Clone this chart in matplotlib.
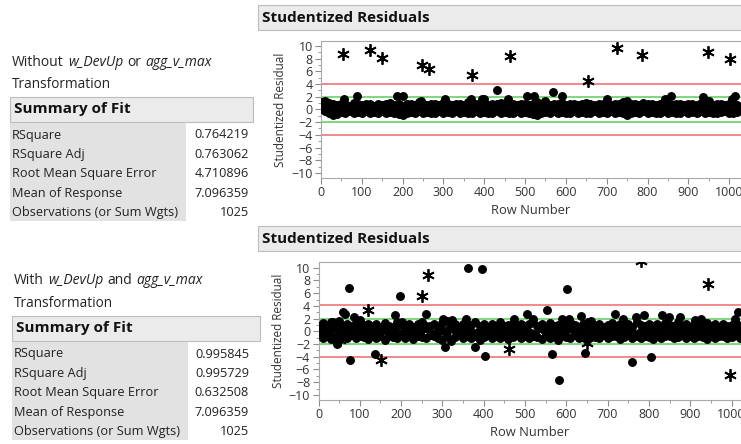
import matplotlib
matplotlib.use("Agg")
import matplotlib.pyplot as plt
from matplotlib import font_manager
from matplotlib.patches import Rectangle
from matplotlib.ticker import MultipleLocator


def pick_family(names):
    # first family that has both a bold and an italic face
    for name in names:
        faces = [f for f in font_manager.fontManager.ttflist if f.name == name]
        weights = []
        for f in faces:
            w = f.weight
            if isinstance(w, str):
                w = font_manager.weight_dict.get(w, 400)
            weights.append(w)
        if any(w >= 600 for w in weights) and any(f.style == 'italic' for f in faces):
            return name
    return 'DejaVu Sans'


FAMILY = pick_family(['Open Sans', 'Noto Sans', 'Lato', 'Roboto', 'Liberation Sans'])
plt.rcParams['font.family'] = [FAMILY, 'DejaVu Sans']

W, H = 741, 444

# Summary of Fit tables
fit_labels = ["RSquare", "RSquare Adj", "Root Mean Square Error",
              "Mean of Response", "Observations (or Sum Wgts)"]
fit_without = ["0.764219", "0.763062", "4.710896", "7.096359", "1025"]
fit_with = ["0.995845", "0.995729", "0.632508", "7.096359", "1025"]

# residual band rows
band_rows = list(range(0, 1021, 10))
mid_rows = list(range(5, 1026, 20))
mid2_rows = list(range(15, 1016, 20))

top_hi = [1.2, 1.3, 1.0, 0.8, 0.7, 0.9, 0.8, 0.6, 1.0, 0.8,
          0.7, 0.9, 0.8, 0.6, 0.9, 0.7, 0.8, 1.0, 0.7, 0.8,
          0.6, 0.8, 0.9, 0.7, 1.2, 0.8, 0.7, 0.9, 0.8, 0.7,
          1.0, 0.8, 0.7, 0.9, 0.8, 0.7, 1.1, 0.8, 0.9, 0.7,
          0.8, 0.7, 0.9, 0.8, 1.0, 0.7, 0.8, 0.9, 0.7, 0.8,
          0.9, 0.7, 0.8, 1.1, 0.8, 1.2, 0.7, 0.9, 0.8, 1.0,
          0.7, 0.8, 0.9, 0.7, 0.8, 1.0, 0.8, 0.7, 0.9, 0.8,
          0.8, 0.7, 0.9, 0.8, 1.1, 0.7, 0.8, 0.9, 0.7, 1.0,
          0.8, 0.9, 0.7, 0.8, 1.2, 0.8, 0.7, 0.9, 0.8, 0.7,
          0.9, 0.8, 0.7, 1.0, 0.8, 0.9, 0.7, 0.8, 0.9, 0.7,
          0.8, 1.0, 0.7]
top_lo = [0.1, -0.2, -0.5, -0.8, -0.7, -0.4, -0.5, -0.3, -0.6, -0.4,
          -0.5, -0.3, -0.6, -0.4, -0.5, -0.3, -0.6, -0.4, -0.5, -0.7,
          -0.9, -0.5, -0.4, -0.6, -0.3, -0.5, -0.4, -0.6, -0.5, -0.3,
          -0.5, -0.4, -0.6, -0.3, -0.5, -0.4, -0.6, -0.5, -0.3, -0.6,
          -0.4, -0.5, -0.6, -0.3, -0.5, -0.4, -0.6, -0.5, -0.3, -0.6,
          -0.4, -0.5, -0.7, -0.9, -0.5, -0.4, -0.6, -0.3, -0.5, -0.4,
          -0.6, -0.5, -0.3, -0.6, -0.4, -0.5, -0.6, -0.3, -0.5, -0.4,
          -0.5, -0.3, -0.6, -0.4, -0.5, -0.8, -0.6, -0.4, -0.5, -0.3,
          -0.6, -0.4, -0.5, -0.6, -0.3, -0.5, -0.4, -0.6, -0.5, -0.3,
          -0.5, -0.4, -0.6, -0.3, -0.5, -0.4, -0.6, -0.5, -0.4, -0.3,
          -0.5, -0.6, -0.4]
top_mid = [0.2, 0.3, 0.0, 0.1, 0.4, -0.1, 0.2, 0.1, 0.3, 0.0,
           0.1, 0.4, 0.2, -0.1, 0.1, 0.3, 0.0, 0.2, 0.1, 0.4,
           0.0, 0.2, 0.1, 0.3, -0.1, 0.2, 0.1, 0.4, 0.0, 0.2,
           0.3, 0.1, 0.0, 0.2, 0.4, 0.1, -0.1, 0.2, 0.3, 0.0,
           0.1, 0.2, 0.4, 0.0, 0.1, 0.3, 0.2, -0.1, 0.1, 0.3,
           0.2, 0.0]
top_mid2 = [0.5, -0.1, 0.1, 0.3, -0.2, 0.2, 0.4, 0.0, 0.1, 0.3,
            -0.1, 0.2, 0.5, 0.0, 0.3, 0.1, -0.2, 0.4, 0.2, 0.0,
            0.3, 0.1, -0.1, 0.4, 0.2, 0.0, 0.3, -0.2, 0.1, 0.4,
            0.2, 0.0, 0.3, -0.1, 0.1, 0.4, 0.2, 0.0, -0.2, 0.3,
            0.1, 0.4, -0.1, 0.2, 0.3, 0.0, 0.1, 0.4, -0.1, 0.2,
            0.3]

bot_hi = [0.9, 1.3, 0.7, 1.4, 1.1, 1.6, 0.8, 1.2, 0.9, 1.3,
          0.7, 1.0, 1.2, 0.8, 1.1, 0.6, 1.3, 0.9, 0.7, 1.5,
          1.0, 0.8, 1.2, 0.7, 1.1, 1.4, 0.9, 0.8, 1.2, 0.6,
          1.3, 1.6, 0.9, 1.1, 0.7, 1.2, 0.8, 1.0, 1.4, 0.9,
          1.2, 0.7, 1.1, 0.9, 1.4, 0.8, 1.0, 1.3, 0.7, 1.1,
          0.9, 1.2, 1.5, 0.8, 1.1, 0.7, 1.3, 0.9, 1.0, 1.2,
          0.8, 1.4, 1.0, 0.7, 1.2, 0.9, 1.6, 0.8, 1.1, 0.7,
          1.0, 1.3, 0.8, 1.1, 0.9, 1.2, 0.7, 1.5, 1.0, 0.8,
          1.2, 0.9, 1.1, 0.7, 1.3, 1.0, 0.8, 1.4, 0.9, 1.1,
          0.7, 1.2, 0.9, 1.0, 1.3, 0.8, 1.1, 0.7, 1.2, 0.9,
          1.0, 1.3, 0.8]
bot_lo = [-0.5, -1.0, -0.7, -1.2, -0.9, -1.4, -0.8, -1.1, -0.6, -1.0,
          -0.7, -0.9, -1.2, -0.6, -1.0, -0.8, -1.3, -0.7, -0.9, -1.1,
          -0.6, -1.0, -0.8, -1.2, -0.7, -0.9, -1.1, -0.6, -0.8, -1.0,
          -1.3, -0.7, -1.5, -0.9, -0.6, -1.1, -0.8, -1.0, -0.7, -1.3,
          -0.9, -0.6, -1.1, -0.8, -1.0, -0.7, -1.2, -0.9, -0.6, -1.0,
          -0.8, -1.1, -0.7, -0.9, -1.2, -0.6, -1.0, -0.8, -1.3, -0.7,
          -0.9, -1.1, -0.6, -1.0, -0.8, -1.4, -0.7, -0.9, -1.1, -0.6,
          -1.0, -0.8, -0.7, -1.2, -0.9, -0.6, -1.1, -0.8, -1.0, -0.7,
          -0.9, -1.2, -0.6, -1.0, -0.8, -0.7, -1.1, -0.9, -0.6, -1.0,
          -0.8, -1.1, -0.7, -0.9, -1.2, -0.6, -1.0, -0.8, -0.7, -1.1,
          -0.9, -0.6, -1.0]
bot_mid = [0.2, -0.3, 0.4, -0.1, 0.1, -0.4, 0.3, -0.2, 0.0, 0.2,
           -0.3, 0.1, -0.1, 0.4, -0.2, 0.0, 0.3, -0.4, 0.1, -0.1,
           0.2, -0.3, 0.0, 0.3, -0.2, 0.1, -0.4, 0.2, -0.1, 0.0,
           0.3, -0.2, 0.1, -0.3, 0.4, -0.1, 0.0, 0.2, -0.4, 0.1,
           -0.2, 0.3, 0.0, -0.1, 0.2, -0.3, 0.1, 0.4, -0.2, 0.0,
           0.2, -0.1]
bot_mid2 = [-0.4, 0.5, -0.2, 0.3, -0.6, 0.1, -0.3, 0.4, -0.1, -0.5,
            0.2, -0.2, 0.5, -0.4, 0.0, 0.3, -0.6, 0.1, -0.3, 0.4,
            -0.1, 0.2, -0.5, 0.0, 0.3, -0.2, 0.5, -0.4, 0.1, -0.3,
            0.4, -0.6, 0.0, 0.2, -0.2, 0.5, -0.4, 0.1, -0.3, 0.3,
            -0.1, -0.5, 0.2, 0.4, -0.3, 0.0, -0.2, 0.5, -0.4, 0.1,
            -0.3]

# outlying points
top_dot_rows = [56, 87, 185, 202, 244, 305, 368, 394, 400, 432, 459, 504, 523,
                549, 568, 590, 700, 749, 843, 857, 937, 951, 1008, 1015]
top_dot_vals = [1.7, 2.1, 2.1, 2.1, 1.3, 1.6, 1.7, 1.6, 1.6, 3.0, 1.6, 2.1, 2.1,
                1.3, 2.7, 2.1, 1.6, 1.3, 1.6, 2.1, 2.0, 1.3, 1.6, 2.1]
top_star_rows = [55, 120, 149, 248, 265, 370, 463, 655, 725, 786, 949, 1002]
top_star_vals = [8.8, 9.4, 8.1, 7.0, 6.3, 5.4, 8.4, 4.5, 9.7, 8.6, 9.0, 7.9]

bot_dot_rows = [36, 44, 59, 63, 74, 77, 86, 101, 137, 185, 198, 202, 260, 302,
                306, 323, 356, 363, 379, 397, 403, 473, 504, 519, 554, 565,
                583, 589, 601, 606, 635, 645, 653, 718, 738, 760, 769, 788,
                806, 832, 849, 875, 911, 927, 1008, 1016]
bot_dot_vals = [1.4, -2.0, 3.0, 2.7, 6.8, -4.5, 2.3, 1.8, -3.5, 2.5, 5.6, 1.4,
                2.8, 1.9, -2.5, 1.8, 1.9, 10.0, -2.5, 9.8, -3.9, 1.9, 2.7, 1.9,
                3.3, -3.6, -7.6, 1.9, 6.7, 1.9, 2.4, -3.4, 1.4, 2.7, 1.9, -4.8,
                2.3, 2.6, -4.0, 2.6, 2.2, 2.2, 1.8, 1.9, 1.9, 3.1]
bot_star_rows = [52, 121, 152, 250, 265, 461, 650, 782, 944, 996]
bot_star_vals = [-1.4, 3.3, -4.5, 5.5, 8.9, -2.8, -1.8, 11.0, 7.4, -6.9]

fig = plt.figure(figsize=(W / 100, H / 100), dpi=100)
fig.patch.set_facecolor('white')


def fx(x):
    return x / W


def fy(y):
    return 1 - y / H


def box(x0, y0, x1, y1, fc, ec='none'):
    fig.add_artist(Rectangle((fx(x0), fy(y1)), (x1 - x0) / W, (y1 - y0) / H,
                             transform=fig.transFigure, fc=fc, ec=ec, lw=0.8))


def rich_text(x, y, parts, size):
    r = fig.canvas.get_renderer()
    for s, style in parts:
        t = fig.text(fx(x), fy(y), s, fontsize=size, style=style, va='center',
                     color='#222222')
        x += t.get_window_extent(r).width + 4.2


def summary(top, left, box_right, title_parts, values):
    rich_text(left + 2, top, title_parts, 10)
    fig.text(fx(left + 2), fy(top + 22), "Transformation", fontsize=9.8,
             va='center', color='#222222')
    box(left, top + 35, box_right, top + 60, '#ebebeb', '#bdbdbd')
    fig.text(fx(left + 4), fy(top + 47), "Summary of Fit", fontsize=11,
             weight='bold', va='center', color='#111111')
    box(left, top + 61, left + 176, top + 159, '#e2e2e2')
    for i, (lab, val) in enumerate(zip(fit_labels, values)):
        yy = top + 73 + i * 19.4
        fig.text(fx(left + 2), fy(yy), lab, fontsize=9.2, va='center', color='#222222')
        fig.text(fx(249), fy(yy), val, fontsize=9.2, va='center', ha='right',
                 color='#222222')


def resid_panel(bar_top, ax_rect, xmax, ylim, hi, mid, mid2, lo,
                drows, dvals, srows, svals):
    box(258, bar_top, 745, bar_top + 25, '#ebebeb', '#bdbdbd')
    fig.text(fx(262), fy(bar_top + 12.5), "Studentized Residuals", fontsize=11,
             weight='bold', va='center', color='#111111')
    ax = fig.add_axes(ax_rect)
    for lvl, col in [(4.06, '#f07f83'), (-4.06, '#f07f83'),
                     (1.96, '#74d474'), (-1.96, '#74d474')]:
        ax.axhline(lvl, color=col, lw=1.3, zorder=1)
    for rows, vals in [(band_rows, hi), (band_rows, lo), (mid_rows, mid),
                       (mid2_rows, mid2), (drows, dvals)]:
        ax.plot(rows, vals, 'o', color='black', ms=5.4, zorder=3)
    ax.plot(srows, svals, linestyle='none', marker=(6, 2, 0), color='black',
            ms=9, mew=1.3, zorder=3)
    ax.set_xlim(0, xmax)
    ax.set_ylim(*ylim)
    ax.xaxis.set_major_locator(MultipleLocator(100))
    ax.xaxis.set_minor_locator(MultipleLocator(50))
    ax.yaxis.set_major_locator(MultipleLocator(2))
    ax.yaxis.set_minor_locator(MultipleLocator(1))
    ax.tick_params(which='both', colors='#8c8c8c', labelcolor='#333333',
                   labelsize=9, pad=2)
    ax.tick_params(which='major', length=4)
    ax.tick_params(which='minor', length=2.5)
    for sp in ('left', 'bottom', 'top'):
        ax.spines[sp].set_color('#a8a8a8')
    ax.spines['right'].set_visible(False)
    ax.set_xlabel("Row Number", fontsize=9.3, color='#333333', labelpad=3)
    ax.set_ylabel("Studentized Residual", fontsize=8.5, color='#333333', labelpad=3)
    return ax


summary(62, 10, 253, [("Without", 'normal'), ("w_DevUp", 'italic'), ("or", 'normal'),
                      ("agg_v_max", 'italic')], fit_without)
summary(281, 12, 260, [("With", 'normal'), ("w_DevUp", 'italic'), ("and", 'normal'),
                       ("agg_v_max", 'italic')], fit_with)

resid_panel(5, [321 / W, 1 - 178 / H, 420 / W, 136.5 / H], 1029, (-10.8, 10.7),
            top_hi, top_mid, top_mid2, top_lo, top_dot_rows, top_dot_vals,
            top_star_rows, top_star_vals)
resid_panel(226, [318.5 / W, 1 - 400 / H, 422.5 / W, 138 / H], 1023, (-10.8, 10.9),
            bot_hi, bot_mid, bot_mid2, bot_lo, bot_dot_rows, bot_dot_vals,
            bot_star_rows, bot_star_vals)

fig.savefig("out.png", dpi=100)
